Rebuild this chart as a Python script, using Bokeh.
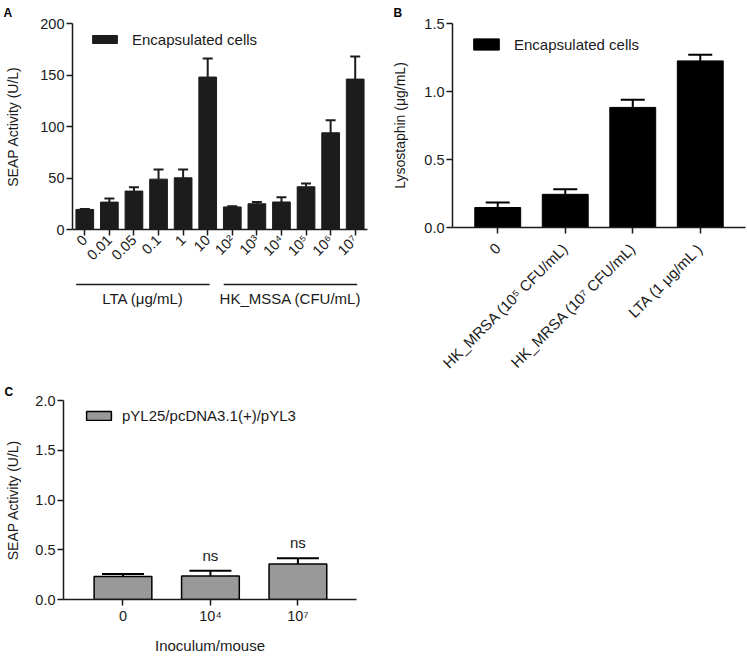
import math
from bokeh.plotting import figure
from bokeh.models import (Range1d, FixedTicker, ColumnDataSource, Whisker, TeeHead,
                          Legend, LegendItem, NumeralTickFormatter)
from bokeh.layouts import column, row
from bokeh.embed import file_html
from bokeh.resources import INLINE
from bokeh.core.properties import value

FONT = "Liberation Sans"

# ---------------- data ----------------
# Panel A
a_categories = ["0", "0.01", "0.05", "0.1", "1", "10",
                "10²", "10³", "10⁴", "10⁵", "10⁶", "10⁷"]
a_values = [19.5, 26.6, 37.3, 48.9, 50.2, 148.0, 21.9, 25.0, 26.7, 41.5, 93.9, 146.0]
a_errors = [0.5, 3.5, 3.7, 9.3, 8.0, 18.0, 0.6, 1.7, 4.5, 3.2, 12.1, 22.0]
a_group_names = ["LTA (μg/mL)", "HK_MSSA (CFU/mL)"]
a_group_first = [0, 6]
a_group_last = [5, 11]
a_yticks = [0, 50, 100, 150, 200]
a_series = "Encapsulated cells"

# Panel B
b_categories = ["0", "HK_MRSA (10⁵ CFU/mL)", "HK_MRSA (10⁷ CFU/mL)", "LTA (1 μg/mL )"]
b_values = [0.147, 0.244, 0.883, 1.225]
b_errors = [0.036, 0.038, 0.057, 0.046]
b_yticks = [0.0, 0.5, 1.0, 1.5]
b_series = "Encapsulated cells"

# Panel C
c_categories = ["0", "10⁴", "10⁷"]
c_values = [0.231, 0.235, 0.357]
c_errors = [0.026, 0.054, 0.058]
c_sig = ["", "ns", "ns"]
c_yticks = [0.0, 0.5, 1.0, 1.5, 2.0]
c_series = "pYL25/pcDNA3.1(+)/pYL3"


def style(p, ytitle, label_standoff):
    p.xgrid.visible = False
    p.ygrid.visible = False
    p.outline_line_color = None
    p.background_fill_color = "white"
    p.border_fill_color = "white"
    for ax in p.axis:
        ax.axis_line_width = 1.5
        ax.axis_line_color = "#1a1a1a"
        ax.major_tick_line_width = 1.5
        ax.major_tick_line_color = "#1a1a1a"
        ax.major_tick_out = 6
        ax.major_tick_in = 0
        ax.minor_tick_out = 0
        ax.minor_tick_in = 0
        ax.major_label_text_font = FONT
        ax.major_label_text_font_size = "14.5px"
        ax.major_label_text_color = "#1a1a1a"
        ax.major_label_standoff = 2
        ax.axis_label_text_font = FONT
        ax.axis_label_text_font_style = "normal"
        ax.axis_label_text_color = "#1a1a1a"
    p.yaxis.axis_label = ytitle
    p.yaxis.axis_label_text_font_size = "14px"
    p.yaxis.axis_label_standoff = label_standoff


def panel_letter(p, text, offset, standoff):
    p.title.text = text
    p.title.align = "left"
    p.title.offset = offset
    p.title.standoff = standoff
    p.title.text_font = FONT
    p.title.text_font_size = "12px"
    p.title.text_font_style = "bold"
    p.title.text_color = "black"


def add_legend(p, renderer, text, x, y, gw, gh, standoff):
    leg = Legend(items=[LegendItem(label=text, renderers=[renderer])],
                 location=(x, y), glyph_width=gw, glyph_height=gh,
                 label_standoff=standoff, label_height=18, padding=0, margin=0,
                 spacing=0, background_fill_alpha=0, border_line_alpha=0,
                 label_text_font=FONT, label_text_font_size="15px",
                 label_text_color="#1a1a1a")
    p.add_layout(leg)


# ---------------- Panel A ----------------
a_x = list(range(len(a_categories)))
a_src = ColumnDataSource(dict(x=a_x, top=a_values,
                              upper=[v + e for v, e in zip(a_values, a_errors)]))
pA = figure(width=370, height=272, x_range=Range1d(-0.5, len(a_categories) - 0.5),
            y_range=Range1d(0, 200), output_backend="svg", toolbar_location=None,
            min_border_left=72, min_border_right=3, min_border_top=22, min_border_bottom=43)
rA = pA.vbar(x="x", top="top", width=0.72, source=a_src, fill_color="#1c1c1c",
             line_color="#1c1c1c")
pA.add_layout(Whisker(base="x", lower="top", upper="upper", source=a_src, dimension="height",
                      lower_head=None, upper_head=TeeHead(size=10, line_width=2, line_color="#1c1c1c"),
                      line_width=2, line_color="#1c1c1c"))
style(pA, "SEAP Activity (U/L)", 16)
pA.xaxis.ticker = FixedTicker(ticks=a_x)
pA.xaxis.major_label_overrides = {i: c for i, c in enumerate(a_categories)}
pA.xaxis.major_label_orientation = math.pi / 4
pA.yaxis.ticker = FixedTicker(ticks=a_yticks)
add_legend(pA, rA, a_series, 17, 181, 31, 10, 12)
panel_letter(pA, "A", -69, 7)

# group brackets below panel A
pG = figure(width=370, height=108, x_range=pA.x_range, y_range=Range1d(0, 108),
            output_backend="svg", toolbar_location=None, x_axis_type=None, y_axis_type=None,
            min_border_left=72, min_border_right=3, min_border_top=0, min_border_bottom=0)
pG.xgrid.visible = False
pG.ygrid.visible = False
pG.outline_line_color = None
g_lo = [f - 0.35 for f in a_group_first]
g_hi = [l + 0.08 for l in a_group_last]
g_mid = [(lo + hi) / 2 for lo, hi in zip(g_lo, g_hi)]
pG.segment(x0=g_lo, x1=g_hi, y0=[96] * len(g_lo), y1=[96] * len(g_lo),
           line_color="#1a1a1a", line_width=1.5)
pG.text(x=g_mid, y=[82] * len(g_mid), text=a_group_names, text_align="center",
        text_baseline="middle", text_font=value(FONT), text_font_size="15px",
        text_color="#1a1a1a")

# ---------------- Panel B ----------------
b_x = list(range(len(b_categories)))
b_src = ColumnDataSource(dict(x=b_x, top=b_values,
                              upper=[v + e for v, e in zip(b_values, b_errors)]))
pB = figure(width=376, height=380, x_range=Range1d(-0.67, len(b_categories) - 0.33),
            y_range=Range1d(0, 1.5), output_backend="svg", toolbar_location=None,
            min_border_left=82, min_border_right=1, min_border_top=22, min_border_bottom=151)
rB = pB.vbar(x="x", top="top", width=0.68, source=b_src, fill_color="black", line_color="black")
pB.add_layout(Whisker(base="x", lower="top", upper="upper", source=b_src, dimension="height",
                      lower_head=None, upper_head=TeeHead(size=24, line_width=2, line_color="black"),
                      line_width=2, line_color="black"))
style(pB, "Lysostaphin (μg/mL)", 13)
pB.xaxis.ticker = FixedTicker(ticks=b_x)
pB.xaxis.major_label_overrides = {i: c for i, c in enumerate(b_categories)}
pB.xaxis.major_label_orientation = math.pi / 4
pB.xaxis.major_label_text_font_size = "15px"
pB.xaxis.major_label_standoff = 12
pB.yaxis.ticker = FixedTicker(ticks=b_yticks)
pB.yaxis.formatter = NumeralTickFormatter(format="0.0")
add_legend(pB, rB, b_series, 18, 174, 32, 14, 12)
panel_letter(pB, "B", -59, 7)

# ---------------- Panel C ----------------
c_x = list(range(len(c_categories)))
c_src = ColumnDataSource(dict(x=c_x, top=c_values, sig=c_sig,
                              upper=[v + e for v, e in zip(c_values, c_errors)]))
pC = figure(width=380, height=276, x_range=Range1d(-0.68, len(c_categories) - 0.33),
            y_range=Range1d(0, 2.0), output_backend="svg", toolbar_location=None,
            min_border_left=63, min_border_right=24, min_border_top=18, min_border_bottom=53)
rC = pC.vbar(x="x", top="top", width=0.66, source=c_src, fill_color="#999999",
             line_color="black", line_width=1.5)
pC.add_layout(Whisker(base="x", lower="top", upper="upper", source=c_src, dimension="height",
                      lower_head=None, upper_head=TeeHead(size=42, line_width=2, line_color="black"),
                      line_width=2, line_color="black"))
pC.text(x="x", y="upper", text="sig", source=c_src, text_align="center", text_baseline="bottom",
        y_offset=-7, text_font=value(FONT), text_font_size="15px", text_color="#1a1a1a")
style(pC, "SEAP Activity (U/L)", 11)
pC.xaxis.ticker = FixedTicker(ticks=c_x)
pC.xaxis.major_label_overrides = {i: c for i, c in enumerate(c_categories)}
pC.xaxis.axis_label = "Inoculum/mouse"
pC.xaxis.axis_label_text_font_size = "15px"
pC.xaxis.axis_label_standoff = 10
pC.yaxis.ticker = FixedTicker(ticks=c_yticks)
pC.yaxis.formatter = NumeralTickFormatter(format="0.0")
add_legend(pC, rC, c_series, 20, 175, 31, 11, 8)
panel_letter(pC, "C", -59, 4)

layout = column(row(column(pA, pG), pB), pC)
open("out.html", "w").write(file_html(layout, INLINE))
